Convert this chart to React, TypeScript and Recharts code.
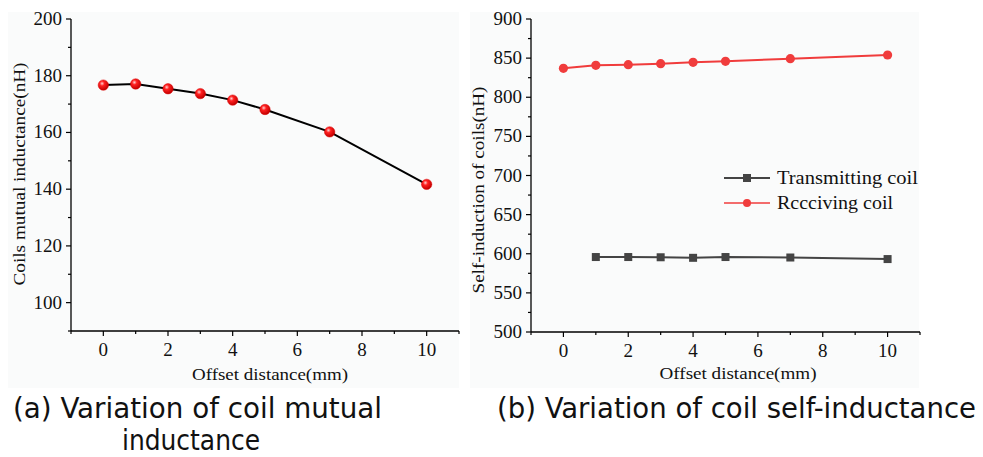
import React from "react";
import { LineChart, Line, XAxis, YAxis, Legend } from "recharts";

// offsets (mm)
const offsets = [0, 1, 2, 3, 4, 5, 7, 10];
// (a) mutual inductance (nH)
const mutualValues = [176.7, 177.1, 175.4, 173.7, 171.4, 168.1, 160.2, 141.7];
// (b) self inductance (nH)
const transmittingValues = [null, 595.8, 595.8, 595.5, 594.8, 595.8, 595.2, 593.2];
const receivingValues = [837, 840.8, 841.6, 842.9, 844.6, 845.9, 849.3, 854];

const xTicks = [-1, 0, 1, 2, 3, 4, 5, 6, 7, 8, 9, 10, 11];
const mutualTicks = [90, 100, 110, 120, 130, 140, 150, 160, 170, 180, 190, 200];
const selfTicks = [500, 525, 550, 575, 600, 625, 650, 675, 700, 725, 750, 775, 800, 825, 850, 875, 900];

const mutualData = offsets.map((x, i) => ({ x, m: mutualValues[i] }));
const selfData = offsets.map((x, i) => ({
  x,
  t: transmittingValues[i],
  r: receivingValues[i],
}));

const FONT = "'Liberation Serif', 'Times New Roman', serif";
const CAPTION_FONT = "'DejaVu Sans Condensed', 'Liberation Sans Narrow', 'DejaVu Sans', sans-serif";

const XTick = (props: any) => {
  const { x, y, payload } = props;
  const v = payload.value;
  const major = v % 2 === 0 && v >= 0 && v <= 10;
  return (
    <g>
      <line x1={x} y1={y} x2={x} y2={y + (major ? 5 : 3)} stroke="#000" strokeWidth={1.2} />
      {major && (
        <text x={x} y={y + 25} textAnchor="middle" fontSize={19} style={{ fontFamily: FONT }} fill="#111">
          {v}
        </text>
      )}
    </g>
  );
};

const makeYTick = (step: number, min: number) => (props: any) => {
  const { x, y, payload } = props;
  const v = payload.value;
  const major = v % step === 0 && v >= min;
  return (
    <g>
      <line x1={x - (major ? 5 : 3)} y1={y} x2={x} y2={y} stroke="#000" strokeWidth={1.2} />
      {major && (
        <text x={x - 9} y={y + 6} textAnchor="end" fontSize={19} style={{ fontFamily: FONT }} fill="#111">
          {v}
        </text>
      )}
    </g>
  );
};

const ShinyDot = (props: any) => {
  const { cx, cy } = props;
  if (cx == null || cy == null) return null;
  return <circle cx={cx} cy={cy} r={5.2} fill="url(#shiny)" stroke="#d00" strokeWidth={0.5} />;
};

const SquareDot = (props: any) => {
  const { cx, cy } = props;
  if (cx == null || cy == null) return null;
  return <rect x={cx - 4} y={cy - 4} width={8} height={8} fill="#444" />;
};

const RoundDot = (props: any) => {
  const { cx, cy } = props;
  if (cx == null || cy == null) return null;
  return <circle cx={cx} cy={cy} r={4.6} fill="#f03c3c" />;
};

const SelfLegend = () => (
  <svg width={210} height={50} style={{ display: "block" }}>
    <line x1={0} y1={12} x2={46} y2={12} stroke="#444" strokeWidth={2} />
    <rect x={19} y={8} width={8} height={8} fill="#444" />
    <text x={53} y={18} fontSize={19} style={{ fontFamily: FONT }} fill="#111" textLength={141} lengthAdjust="spacingAndGlyphs">
      Transmitting coil
    </text>
    <line x1={0} y1={37} x2={46} y2={37} stroke="#f03c3c" strokeWidth={1.5} />
    <circle cx={23} cy={37} r={4} fill="#f03c3c" />
    <text x={53} y={43} fontSize={19} style={{ fontFamily: FONT }} fill="#111" textLength={116} lengthAdjust="spacingAndGlyphs">
      Rccciving coil
    </text>
  </svg>
);

const panelBg = "#fafbfb";

export default function App() {
  return (
    <div style={{ position: "absolute", left: 0, top: 0, width: 983, height: 457, background: "#fff", overflow: "hidden" }}>
      {/* panel backgrounds */}
      <div style={{ position: "absolute", left: 8, top: 12, width: 451, height: 376, background: panelBg }} />
      <div style={{ position: "absolute", left: 470, top: 12, width: 449, height: 376, background: panelBg }} />

      {/* (a) mutual inductance */}
      <div style={{ position: "absolute", left: 0, top: 0 }}>
        <LineChart width={461} height={385} data={mutualData} margin={{ top: 19, right: 2, bottom: 0, left: 0 }}>
          <defs>
            <radialGradient id="shiny" cx="38%" cy="35%" r="65%">
              <stop offset="0%" stopColor="#ffd0d0" />
              <stop offset="35%" stopColor="#ff2020" />
              <stop offset="100%" stopColor="#c00000" />
            </radialGradient>
          </defs>
          <XAxis
            dataKey="x"
            type="number"
            domain={[-1, 11]}
            ticks={xTicks}
            interval={0}
            height={54}
            tickSize={0}
            tickMargin={0}
            tickLine={false}
            axisLine={{ stroke: "#000", strokeWidth: 1.3 }}
            tick={<XTick />}
            label={() => (
              <text x={270} y={380} textAnchor="middle" fontSize={17} style={{ fontFamily: FONT }} fill="#111" textLength={156} lengthAdjust="spacingAndGlyphs">
                Offset distance(mm)
              </text>
            )}
          />
          <YAxis
            type="number"
            domain={[90, 200]}
            ticks={mutualTicks}
            interval={0}
            width={71}
            tickSize={0}
            tickMargin={0}
            tickLine={false}
            axisLine={{ stroke: "#000", strokeWidth: 1.3 }}
            tick={makeYTick(20, 100)}
            label={() => (
              <text
                x={0}
                y={0}
                transform="translate(25,174) rotate(-90)"
                textAnchor="middle"
                fontSize={17}
                style={{ fontFamily: FONT }}
                fill="#111"
                textLength={223}
                lengthAdjust="spacingAndGlyphs"
              >
                Coils mutual inductance(nH)
              </text>
            )}
          />
          <Line
            dataKey="m"
            stroke="#000"
            strokeWidth={2}
            dot={<ShinyDot />}
            activeDot={false}
            isAnimationActive={false}
          />
        </LineChart>
      </div>

      {/* (b) self inductance */}
      <div style={{ position: "absolute", left: 462, top: 0 }}>
        <LineChart width={460} height={385} data={selfData} margin={{ top: 19, right: 2, bottom: 0, left: 0 }}>
          <XAxis
            dataKey="x"
            type="number"
            domain={[-1, 11]}
            ticks={xTicks}
            interval={0}
            height={53}
            tickSize={0}
            tickMargin={0}
            tickLine={false}
            axisLine={{ stroke: "#000", strokeWidth: 1.3 }}
            tick={<XTick />}
            label={() => (
              <text x={738 - 462} y={379} textAnchor="middle" fontSize={17} style={{ fontFamily: FONT }} fill="#111" textLength={157} lengthAdjust="spacingAndGlyphs">
                Offset distance(mm)
              </text>
            )}
          />
          <YAxis
            type="number"
            domain={[500, 900]}
            ticks={selfTicks}
            interval={0}
            width={69}
            tickSize={0}
            tickMargin={0}
            tickLine={false}
            axisLine={{ stroke: "#000", strokeWidth: 1.3 }}
            tick={makeYTick(50, 500)}
            label={() => (
              <text
                x={0}
                y={0}
                transform={`translate(${484 - 462},190) rotate(-90)`}
                textAnchor="middle"
                fontSize={17}
                style={{ fontFamily: FONT }}
                fill="#111"
                textLength={207}
                lengthAdjust="spacingAndGlyphs"
              >
                Self-induction of coils(nH)
              </text>
            )}
          />
          <Legend
            layout="vertical"
            align="center"
            verticalAlign="middle"
            wrapperStyle={{ position: "absolute", left: 724 - 462, top: 178 - 12, width: 210 }}
            content={() => <SelfLegend />}
          />
          <Line
            name="Transmitting coil"
            dataKey="t"
            stroke="#444"
            strokeWidth={2}
            dot={<SquareDot />}
            activeDot={false}
            connectNulls
            isAnimationActive={false}
          />
          <Line
            name="Rccciving coil"
            dataKey="r"
            stroke="#f03c3c"
            strokeWidth={2}
            dot={<RoundDot />}
            activeDot={false}
            isAnimationActive={false}
          />
        </LineChart>
      </div>

      {/* captions */}
      <svg width={983} height={457} style={{ position: "absolute", left: 0, top: 0, pointerEvents: "none" }}>
        <text x={13} y={418} fontSize={28} style={{ fontFamily: CAPTION_FONT }} fill="#111" textLength={369} lengthAdjust="spacingAndGlyphs">
          (a) Variation of coil mutual
        </text>
        <text x={122} y={450} fontSize={28} style={{ fontFamily: CAPTION_FONT }} fill="#111" textLength={138} lengthAdjust="spacingAndGlyphs">
          inductance
        </text>
        <text x={497} y={418} fontSize={28} style={{ fontFamily: CAPTION_FONT }} fill="#111" textLength={479} lengthAdjust="spacingAndGlyphs">
          (b) Variation of coil self-inductance
        </text>
      </svg>
    </div>
  );
}
